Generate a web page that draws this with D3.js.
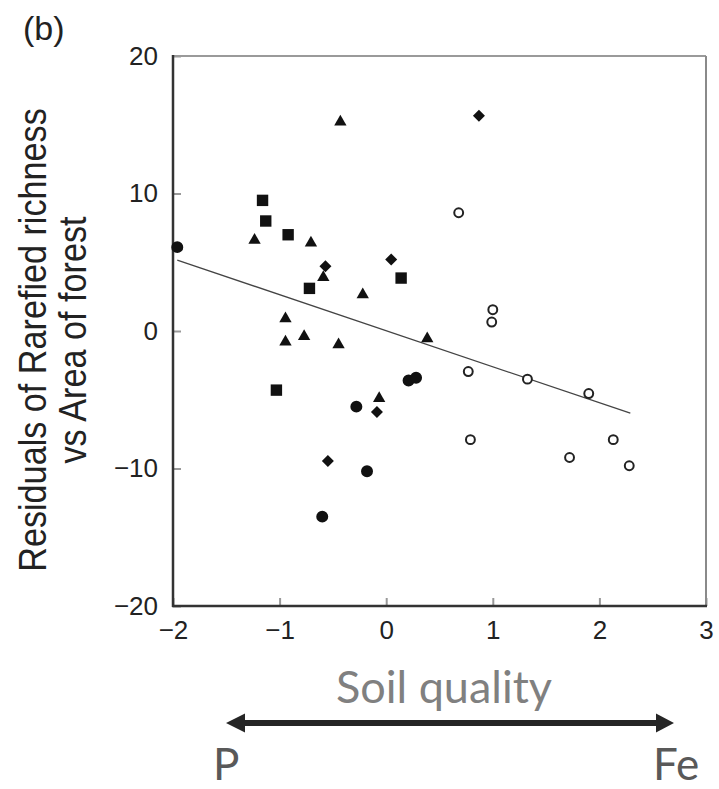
<!DOCTYPE html>
<html>
<head>
<meta charset="utf-8">
<script src="https://cdn.jsdelivr.net/npm/d3@7"></script>
<style>
  body { margin: 0; background: #fff; }
  .tick text { font-family: "Liberation Sans", Arial, sans-serif; font-size: 26px; fill: #222; }
  .tick line { stroke: #999; stroke-width: 2; }
</style>
</head>
<body>
<script>
//tick values of the two axes
var xTicks = [-2, -1, 0, 1, 2, 3],
    yTicks = [-20, -10, 0, 10, 20];

//points [soil quality, residual], one array per symbol
var filledCircles = [[-1.96, 6.1], [0.21, -3.6], [0.28, -3.4], [-0.28, -5.5], [-0.18, -10.2], [-0.6, -13.5]];
var filledSquares = [[-1.16, 9.5], [-1.13, 8.0], [-0.92, 7.0], [-0.72, 3.1], [0.14, 3.85], [-1.03, -4.3]];
var filledTriangles = [[-0.43, 15.2], [-1.235, 6.6], [-0.706, 6.4], [-0.59, 3.9], [-0.22, 2.65], [-0.945, 0.9],
                       [-0.945, -0.8], [-0.77, -0.4], [-0.447, -1.0], [0.385, -0.55], [-0.066, -4.9]];
var filledDiamonds = [[0.87, 15.65], [-0.57, 4.7], [0.047, 5.2], [-0.087, -5.9], [-0.547, -9.45]];
var openCircles = [[0.68, 8.6], [1.0, 1.55], [0.99, 0.65], [0.77, -2.95], [1.325, -3.5], [1.9, -4.55],
                   [0.79, -7.9], [2.13, -7.9], [1.72, -9.2], [2.28, -9.8]];

//fitted line y = a + b*x over the fitted range
var fitIntercept = 0.02,
    fitSlope = -2.62,
    fitRange = [-1.96, 2.29];

//text labels
var panelLabel = "(b)",
    yLabelLines = ["Residuals of Rarefied richness", "vs Area of forest"],
    xCaption = "Soil quality",
    leftEnd = "P",
    rightEnd = "Fe";

//size of the drawing
var width = 719, height = 789;
var plotLeft = 173, plotRight = 706, plotTop = 56, plotBottom = 606;

var svg = d3.select("body").append("svg")
    .attr("width", width)
    .attr("height", height);

var x = d3.scaleLinear().domain([-2, 3]).range([plotLeft, plotRight]);
var y = d3.scaleLinear().domain([-20, 20]).range([plotBottom, plotTop]);

//axes with inward ticks
var xAxis = svg.append("g")
    .attr("transform", "translate(0," + plotBottom + ")")
    .call(d3.axisBottom(x).tickValues(xTicks).tickFormat(d3.format("d")).tickSize(-8).tickPadding(15));
var yAxis = svg.append("g")
    .attr("transform", "translate(" + plotLeft + ",0)")
    .call(d3.axisLeft(y).tickValues(yTicks).tickFormat(d3.format("d")).tickSize(-8).tickPadding(15));
xAxis.select(".domain").remove();
yAxis.select(".domain").remove();

//frame: top and right in grey, left and bottom dark
svg.append("line").attr("x1", plotLeft).attr("x2", plotRight).attr("y1", plotTop).attr("y2", plotTop)
    .attr("stroke", "#9a9a9a").attr("stroke-width", 2);
svg.append("line").attr("x1", plotRight).attr("x2", plotRight).attr("y1", plotTop).attr("y2", plotBottom)
    .attr("stroke", "#8a8a8a").attr("stroke-width", 2);
svg.append("line").attr("x1", plotLeft).attr("x2", plotLeft).attr("y1", plotTop - 1).attr("y2", plotBottom + 1)
    .attr("stroke", "#333").attr("stroke-width", 2.5);
svg.append("line").attr("x1", plotLeft - 1).attr("x2", plotRight + 1).attr("y1", plotBottom).attr("y2", plotBottom)
    .attr("stroke", "#333").attr("stroke-width", 2.5);

//fitted line
var lineFunction = d3.line()
    .x(function(d) { return x(d); })
    .y(function(d) { return y(fitIntercept + fitSlope * d); });
svg.append("path")
    .attr("d", lineFunction(fitRange))
    .attr("fill", "none")
    .attr("stroke", "#444")
    .attr("stroke-width", 1.3);

//points
function drawSymbols(data, type, size, rotate, fill, stroke) {
    svg.append("g").selectAll("path")
        .data(data)
        .enter()
        .append("path")
        .attr("d", d3.symbol().type(type).size(size))
        .attr("transform", function(d) {
            return "translate(" + x(d[0]) + "," + y(d[1]) + ")" + (rotate ? "rotate(" + rotate + ")" : "");
        })
        .attr("fill", fill)
        .attr("stroke", stroke)
        .attr("stroke-width", stroke === "none" ? 0 : 2);
}
drawSymbols(filledSquares, d3.symbolSquare, 130, 0, "#111", "none");
drawSymbols(filledTriangles, d3.symbolTriangle, 66, 0, "#111", "none");
drawSymbols(filledDiamonds, d3.symbolSquare, 72, 45, "#111", "none");
drawSymbols(filledCircles, d3.symbolCircle, 113, 0, "#111", "none");
drawSymbols(openCircles, d3.symbolCircle, 62, 0, "#fff", "#222");

//panel label
svg.append("text")
    .attr("x", 23)
    .attr("y", 40)
    .attr("font-family", "Liberation Sans, Arial, sans-serif")
    .attr("font-size", "34px")
    .attr("fill", "#222")
    .text(panelLabel);

//y label on two lines
svg.selectAll(".ylab")
    .data(yLabelLines)
    .enter()
    .append("text")
    .attr("class", "ylab")
    .attr("transform", function(d, i) { return "translate(" + (46 + i * 40) + ",340)rotate(-90)scale(0.9,1)"; })
    .attr("text-anchor", "middle")
    .attr("font-family", "Liberation Sans, Arial, sans-serif")
    .attr("font-size", "38px")
    .attr("fill", "#222")
    .text(function(d) { return d; });

//soil quality gradient under the axis
svg.append("text")
    .attr("x", 444)
    .attr("y", 703)
    .attr("text-anchor", "middle")
    .attr("font-family", "Lato, 'Open Sans', sans-serif")
    .attr("font-size", "45px")
    .attr("fill", "#808080")
    .text(xCaption);

svg.append("line")
    .attr("x1", 243).attr("x2", 658)
    .attr("y1", 723).attr("y2", 723)
    .attr("stroke", "#262626")
    .attr("stroke-width", 6);
svg.append("path")
    .attr("d", "M226,723L245,713.5L245,732.5Z M674,723L656,713.5L656,732.5Z")
    .attr("fill", "#262626");

svg.append("text")
    .attr("x", 213)
    .attr("y", 780)
    .attr("font-family", "Lato, 'Open Sans', sans-serif")
    .attr("font-size", "44px")
    .attr("fill", "#595959")
    .text(leftEnd);
svg.append("text")
    .attr("x", 653)
    .attr("y", 780)
    .attr("font-family", "Lato, 'Open Sans', sans-serif")
    .attr("font-size", "44px")
    .attr("fill", "#595959")
    .text(rightEnd);
</script>
</body>
</html>
